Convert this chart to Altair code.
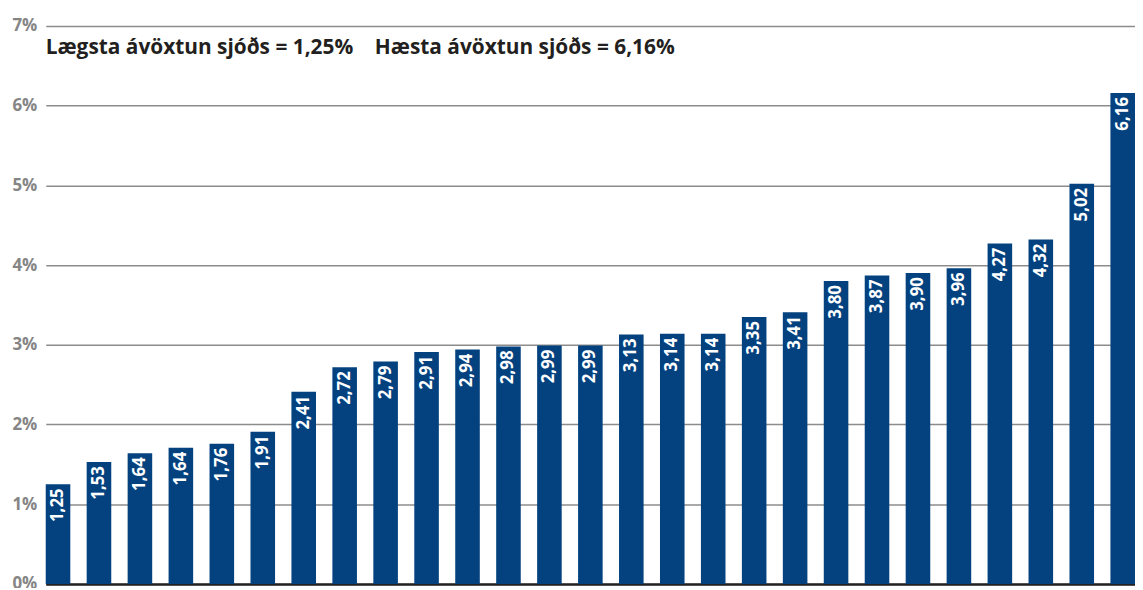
import altair as alt
import pandas as pd

funds = [f"S{i:02d}" for i in range(1, 28)]
heights = [1.25, 1.53, 1.64, 1.71, 1.76, 1.91, 2.41, 2.72, 2.79, 2.91, 2.94, 2.98, 2.99, 2.99,
           3.13, 3.14, 3.14, 3.35, 3.41, 3.80, 3.87, 3.90, 3.96, 4.27, 4.32, 5.02, 6.16]
labels = ["1,25", "1,53", "1,64", "1,64", "1,76", "1,91", "2,41", "2,72", "2,79", "2,91", "2,94",
          "2,98", "2,99", "2,99", "3,13", "3,14", "3,14", "3,35", "3,41", "3,80", "3,87", "3,90",
          "3,96", "4,27", "4,32", "5,02", "6,16"]
y_ticks = [0, 1, 2, 3, 4, 5, 6, 7]
headline = "Lægsta ávöxtun sjóðs = 1,25%\u00a0\u00a0\u00a0\u00a0Hæsta ávöxtun sjóðs = 6,16%"

df = pd.DataFrame({"fund": funds, "value": heights, "label": labels})

FONT = "Open Sans"
BLUE = "#03427f"

x_enc = alt.X("fund:N", sort=funds,
              scale=alt.Scale(paddingInner=0.4, paddingOuter=0.0, align=0),
              axis=alt.Axis(labels=False, ticks=False, title=None, domain=True,
                            domainColor="#222222", domainWidth=2.5, grid=False))
y_enc = alt.Y("value:Q", scale=alt.Scale(domain=[0, 7], nice=False),
              axis=alt.Axis(values=y_ticks, labelExpr="datum.value + '%'", title=None,
                            ticks=False, domain=False, grid=True, gridColor="#8c8c8c",
                            gridWidth=1.5, labelColor="#858585", labelFont=FONT,
                            labelFontSize=17, labelFontWeight="bold", labelPadding=9))

base = alt.Chart(df)
bars = base.mark_bar(color=BLUE).encode(x=x_enc, y=y_enc)
texts = base.mark_text(angle=270, align="right", baseline="middle", dx=-4, color="white",
                       font=FONT, fontSize=17, fontWeight="bold").encode(
    x=alt.X("fund:N", sort=funds), y="value:Q", text="label:N")

head = alt.Chart(pd.DataFrame({"t": [headline]})).mark_text(
    align="left", baseline="alphabetic", font=FONT, fontSize=21, fontWeight="bold",
    color="#231f20").encode(x=alt.value(0), y=alt.value(28), text="t:N")

chart = alt.layer(bars, texts, head).properties(
    width=1097, height=562,
    autosize=alt.AutoSizeParams(type="none"),
    padding={"left": 38, "top": 16, "right": 0, "bottom": 2},
).configure_view(stroke=None)

chart.save("out.html", embed_options={"renderer": "svg", "actions": False})
